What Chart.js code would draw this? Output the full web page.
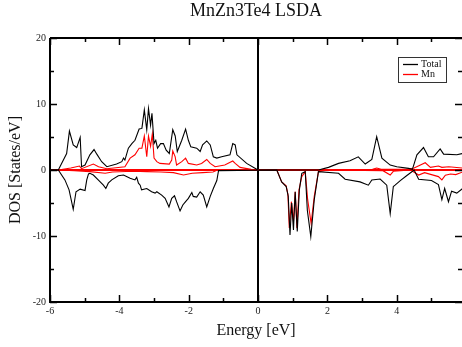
<!DOCTYPE html>
<html>
<head>
<meta charset="utf-8">
<title>MnZn3Te4 LSDA</title>
<script src="https://cdn.jsdelivr.net/npm/chart.js@4/dist/chart.umd.min.js"></script>
<style>
  html, body { margin: 0; padding: 0; background: #fff; }
  #c { display: block; }
</style>
</head>
<body>
<canvas id="c" width="462" height="347"></canvas>
<script>
// Spin-resolved density of states, MnZn3Te4 (LSDA). Energies in eV, DOS in States/eV.
// Spin-up is plotted positive, spin-down negative.
const totalUpE = [-6.0, -5.76, -5.52, -5.44, -5.33, -5.23, -5.13, -5.09, -4.99, -4.85, -4.73, -4.65, -4.51, -4.36, -4.08, -3.93, -3.88, -3.84, -3.74, -3.64, -3.55, -3.43, -3.35, -3.28, -3.21, -3.16, -3.10, -3.06, -3.0, -2.95, -2.90, -2.81, -2.73, -2.65, -2.56, -2.46, -2.39, -2.33, -2.2, -2.09, -2.01, -1.94, -1.77, -1.67, -1.60, -1.48, -1.38, -1.29, -1.19, -1.05, -0.81, -0.73, -0.66, -0.61, -0.33, -0.04, 0.0, 1.74, 2.03, 2.32, 2.65, 2.89, 3.09, 3.28, 3.42, 3.57, 3.81, 4.0, 4.34, 4.45, 4.58, 4.77, 4.91, 5.06, 5.25, 5.35, 5.73, 5.9];
const totalUpDos = [0, 0, 2.5, 5.9, 3.8, 3.4, 4.95, 0.5, 0.75, 2.3, 3.1, 2.4, 1.26, 0.5, 0.9, 1.26, 1.8, 1.5, 3.3, 4.0, 4.5, 6.2, 6.3, 9.1, 6.1, 9.3, 6.8, 8.6, 4.0, 4.5, 3.3, 4.0, 4.0, 3.0, 2.5, 6.1, 5.15, 2.8, 4.5, 6.2, 4.5, 3.5, 3.3, 2.8, 3.8, 4.4, 3.8, 2.0, 1.8, 2.0, 2.3, 4.0, 3.8, 2.3, 1.0, 0.1, 0, 0, 0.4, 1.0, 1.4, 2.0, 0.9, 1.6, 5.05, 1.8, 0.75, 0.5, 0.25, 0.1, 2.3, 3.4, 2.0, 2.0, 3.2, 2.4, 2.3, 2.5];

const totalDnE = [-6.0, -5.76, -5.57, -5.45, -5.33, -5.25, -5.13, -4.99, -4.94, -4.89, -4.85, -4.75, -4.61, -4.46, -4.39, -4.32, -4.22, -4.03, -3.88, -3.69, -3.55, -3.50, -3.45, -3.40, -3.36, -3.21, -3.07, -2.97, -2.92, -2.78, -2.68, -2.57, -2.49, -2.41, -2.35, -2.25, -2.17, -2.09, -2.01, -1.91, -1.87, -1.77, -1.67, -1.58, -1.48, -1.38, -1.29, -1.19, -1.14, 0.54, 0.68, 0.81, 0.87, 0.92, 0.97, 1.02, 1.07, 1.13, 1.19, 1.26, 1.36, 1.42, 1.52, 1.62, 1.74, 2.32, 2.51, 2.94, 3.18, 3.28, 3.52, 3.71, 3.81, 3.90, 3.95, 4.10, 4.30, 4.50, 4.63, 5.0, 5.2, 5.3, 5.38, 5.49, 5.58, 5.73, 5.9];
const totalDnDos = [0, 0, -1.5, -3.0, -5.96, -3.3, -2.9, -3.1, -1.5, -0.6, -0.5, -0.76, -1.5, -2.3, -2.8, -2.0, -1.5, -0.86, -0.76, -1.26, -1.5, -1.1, -2.0, -2.3, -3.0, -2.8, -3.3, -3.5, -3.3, -3.8, -4.3, -5.6, -4.3, -3.9, -4.8, -6.2, -5.3, -4.8, -4.3, -3.4, -4.0, -4.1, -3.3, -3.8, -5.6, -4.0, -2.8, -1.6, -0.1, 0, -1.8, -2.5, -4.0, -9.85, -5.0, -9.1, -3.3, -9.3, -3.0, -0.5, -0.25, -6.1, -10.1, -4.5, -0.25, -0.5, -1.4, -1.8, -2.3, -1.5, -1.36, -2.3, -6.6, -2.5, -2.3, -1.6, -0.8, 0, -1.4, -1.6, -2.2, -4.5, -2.8, -4.8, -3.2, -3.5, -2.8];

const mnUpE = [-6.0, -5.76, -5.4, -5.15, -5.09, -4.75, -4.6, -4.36, -3.84, -3.69, -3.55, -3.43, -3.35, -3.28, -3.21, -3.16, -3.10, -3.05, -3.0, -2.92, -2.83, -2.56, -2.49, -2.46, -2.39, -2.35, -2.2, -2.09, -2.01, -1.77, -1.63, -1.48, -1.38, -1.24, -0.96, -0.73, -0.66, -0.52, -0.2, 0.0, 2.0, 3.3, 3.42, 3.55, 4.3, 4.5, 4.82, 4.97, 5.2, 5.3, 5.5, 5.9];
const mnUpDos = [0, 0, 0.3, 0.6, 0.2, 0.9, 0.5, 0.2, 0.5, 1.8, 2.3, 3.3, 3.3, 5.15, 2.0, 5.15, 3.6, 5.45, 1.8, 1.26, 1.0, 0.9, 1.5, 2.9, 2.0, 0.75, 1.26, 1.8, 1.0, 0.75, 1.0, 1.6, 1.0, 0.5, 0.75, 1.36, 1.0, 0.4, 0.1, 0, 0, 0.1, 0.3, 0.1, 0.1, 0.3, 1.1, 0.4, 0.6, 0.4, 0.5, 0.3];

const mnDnE = [-6.0, -5.76, -5.3, -4.85, -4.41, -4.2, -3.6, -3.2, -2.8, -2.44, -2.15, -1.9, -1.6, -1.3, -1.17, 0.54, 0.68, 0.81, 0.86, 0.90, 0.96, 1.02, 1.07, 1.12, 1.18, 1.26, 1.36, 1.43, 1.53, 1.62, 1.74, 2.0, 3.6, 3.81, 3.9, 4.4, 4.63, 4.8, 5.2, 5.3, 5.4, 5.55, 5.7, 5.9];
const mnDnDos = [0, 0, -0.1, -0.25, -0.5, -0.3, -0.2, -0.25, -0.3, -0.4, -0.75, -0.5, -0.4, -0.3, 0, 0, -1.8, -2.4, -3.7, -8.8, -4.8, -7.8, -3.3, -8.8, -3.0, -1.0, -0.25, -4.5, -8.1, -4.0, -0.25, 0, -0.1, -0.76, -0.2, 0, -0.76, -0.4, -1.0, -1.5, -0.8, -0.6, -0.7, -0.3];

// Axis ticks
const xTicks = [-6, -4, -2, 0, 2, 4];
const xMinorTicks = [-5, -3, -1, 1, 3, 5];
const yTicks = [-20, -10, 0, 10, 20];
const yMinorTicks = [-15, -5, 5, 15];

const SERIF = "'Liberation Serif', 'Times New Roman', Times, serif";
const pts = (xs, ys) => xs.map((x, i) => ({ x: x, y: ys[i] }));

// Frame, inward tick marks and the legend box
const framePlugin = {
  id: 'frame',
  afterDraw(chart) {
    const ctx = chart.ctx;
    const a = chart.chartArea;
    const xs = chart.scales.x, ys = chart.scales.y;
    ctx.save();
    ctx.strokeStyle = '#000';
    // top and left edges
    ctx.lineWidth = 2;
    ctx.beginPath();
    ctx.moveTo(a.left, a.top); ctx.lineTo(a.right, a.top);
    ctx.moveTo(a.left, a.top); ctx.lineTo(a.left, a.bottom);
    ctx.moveTo(a.left - 1, a.bottom); ctx.lineTo(a.right, a.bottom);
    ctx.stroke();
    // ticks
    ctx.lineWidth = 1.5;
    ctx.beginPath();
    const xt = (vals, len) => vals.forEach(v => {
      const p = Math.round(xs.getPixelForValue(v)) + 0.5;
      ctx.moveTo(p, a.bottom); ctx.lineTo(p, a.bottom - len);
      ctx.moveTo(p, a.top); ctx.lineTo(p, a.top + len);
    });
    const yt = (vals, len) => vals.forEach(v => {
      const p = Math.round(ys.getPixelForValue(v)) + 0.5;
      ctx.moveTo(a.left, p); ctx.lineTo(a.left + len, p);
      ctx.moveTo(a.right, p); ctx.lineTo(a.right - len, p);
    });
    xt(xTicks, 7); xt(xMinorTicks, 4);
    yt(yTicks, 7); yt(yMinorTicks, 4);
    ctx.stroke();

    // legend
    const bx = 398.5, by = 57.5, bw = 48, bh = 25;
    ctx.fillStyle = '#fff';
    ctx.fillRect(bx, by, bw, bh);
    ctx.strokeStyle = '#333';
    ctx.lineWidth = 1;
    ctx.strokeRect(bx, by, bw, bh);
    const seen = [];
    chart.data.datasets.forEach(ds => {
      if (seen.find(s => s.label === ds.label)) return;
      seen.push(ds);
    });
    ctx.font = '10px ' + SERIF;
    ctx.textBaseline = 'middle';
    ctx.textAlign = 'left';
    seen.forEach((ds, i) => {
      const y = 64.5 + i * 10;
      ctx.strokeStyle = ds.borderColor;
      ctx.lineWidth = 1.3;
      ctx.beginPath();
      ctx.moveTo(403, y); ctx.lineTo(418, y);
      ctx.stroke();
      ctx.fillStyle = '#111';
      ctx.fillText(ds.label, 421, y);
    });
    ctx.restore();
  }
};

const lineStyle = (color) => ({
  borderColor: color,
  backgroundColor: color,
  borderWidth: 1.1,
  pointRadius: 0,
  tension: 0,
  fill: false
});

new Chart(document.getElementById('c'), {
  type: 'line',
  data: {
    datasets: [
      Object.assign({ label: 'Total', data: pts(totalUpE, totalUpDos) }, lineStyle('#000')),
      Object.assign({ label: 'Total', data: pts(totalDnE, totalDnDos) }, lineStyle('#000')),
      Object.assign({ label: 'Mn', data: pts(mnUpE, mnUpDos) }, lineStyle('#ff0000')),
      Object.assign({ label: 'Mn', data: pts(mnDnE, mnDnDos) }, lineStyle('#ff0000'))
    ]
  },
  options: {
    responsive: false,
    animation: false,
    devicePixelRatio: 1,
    layout: { padding: { left: 0, right: 0, top: 0, bottom: 0 } },
    plugins: {
      legend: { display: false },
      tooltip: { enabled: false },
      title: {
        display: true,
        text: 'MnZn3Te4 LSDA',
        fullSize: false,
        color: '#111',
        font: { family: SERIF, size: 18, weight: 'normal' },
        padding: { top: 0, bottom: 16.4 }
      }
    },
    scales: {
      x: {
        type: 'linear',
        min: -6,
        max: 5.88,
        afterBuildTicks: s => { s.ticks = xTicks.map(v => ({ value: v })); },
        afterFit: s => { s.height = 45; },
        border: { display: false },
        grid: {
          drawTicks: false,
          lineWidth: 2,
          color: c => (c.tick && c.tick.value === 0) ? '#000' : 'rgba(0,0,0,0)'
        },
        ticks: {
          padding: 3,
          color: '#222',
          font: { family: SERIF, size: 10 },
          maxRotation: 0,
          autoSkip: false,
          callback: v => String(v)
        },
        title: {
          display: true,
          text: 'Energy [eV]',
          color: '#111',
          font: { family: SERIF, size: 16 },
          padding: { top: 0, bottom: 6.4 }
        }
      },
      y: {
        type: 'linear',
        min: -20,
        max: 20,
        afterBuildTicks: s => { s.ticks = yTicks.map(v => ({ value: v })); },
        afterFit: s => { s.width = 50; },
        border: { display: false },
        grid: {
          drawTicks: false,
          lineWidth: 2,
          color: c => (c.tick && c.tick.value === 0) ? '#ff0000' : 'rgba(0,0,0,0)'
        },
        ticks: {
          padding: 4,
          color: '#222',
          font: { family: SERIF, size: 10 },
          autoSkip: false,
          callback: v => String(v)
        },
        title: {
          display: true,
          text: 'DOS [States/eV]',
          color: '#111',
          font: { family: SERIF, size: 16 },
          padding: { top: 6.4, bottom: 0 }
        }
      }
    }
  },
  plugins: [framePlugin]
});
</script>
</body>
</html>
